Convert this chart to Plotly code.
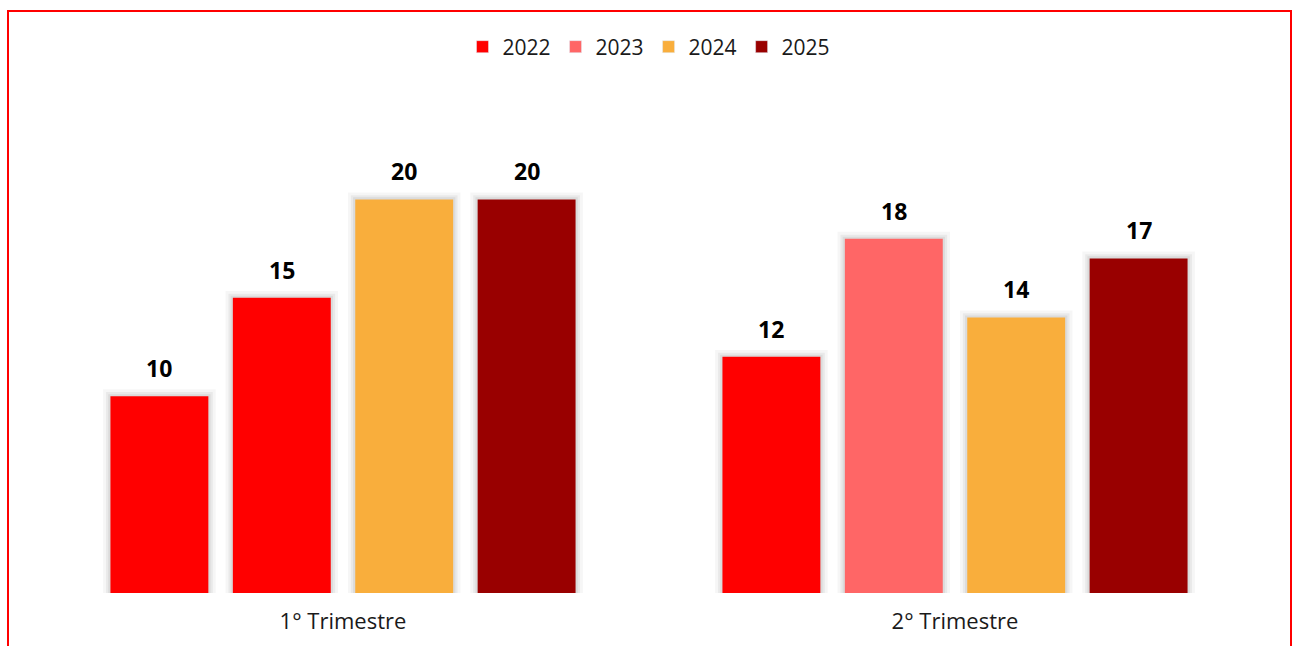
import plotly.graph_objects as go

categories = ["1° Trimestre", "2° Trimestre"]
years = ["2022", "2023", "2024", "2025"]
values = {
    "2022": [10, 12],
    "2023": [15, 18],
    "2024": [20, 14],
    "2025": [20, 17],
}
bar_colors = {
    "2022": ["#FF0000", "#FF0000"],
    "2023": ["#FF0000", "#FF6666"],
    "2024": ["#F9AE3C", "#F9AE3C"],
    "2025": ["#990000", "#990000"],
}
legend_colors = {"2022": "#FF0000", "2023": "#FF6666", "2024": "#F9AE3C", "2025": "#990000"}

FONT = "Open Sans"
x_idx = list(range(len(categories)))
slot = 0.2
bw = 0.16
pad_x = 0.012
pad_y = 0.35

fig = go.Figure()
# soft shadows
for i, yr in enumerate(years):
    off = -0.4 + i * slot + (slot - bw) / 2
    for px, op in [(pad_x, 0.035), (pad_x * 0.6, 0.05), (pad_x * 0.3, 0.06)]:
        fig.add_trace(go.Bar(
            x=x_idx, y=[v + pad_y * (px / pad_x) for v in values[yr]],
            width=bw + 2 * px, offset=off - px,
            marker=dict(color=f"rgba(0,0,0,{op})", line=dict(width=0)),
            showlegend=False, hoverinfo="skip",
        ))
for i, yr in enumerate(years):
    off = -0.4 + i * slot + (slot - bw) / 2
    fig.add_trace(go.Bar(
        x=x_idx, y=values[yr], name=yr, width=bw, offset=off,
        marker=dict(color=bar_colors[yr], line=dict(width=0)),
        showlegend=False,
    ))
    fig.add_trace(go.Bar(x=[None], y=[None], name=yr,
                         marker=dict(color=legend_colors[yr]), showlegend=True))
    for xi, v in zip(x_idx, values[yr]):
        fig.add_annotation(
            x=xi + off + bw / 2, y=v, xref="x", yref="y",
            text=f"<b>{v}</b>", showarrow=False, yanchor="bottom", yshift=10,
            font=dict(family=FONT, size=23, color="#000000"),
        )

fig.update_layout(
    width=1296, height=646,
    barmode="overlay",
    plot_bgcolor="white", paper_bgcolor="white",
    margin=dict(l=37, r=35, t=101, b=53),
    font=dict(family=FONT, size=16, color="#000000"),
    xaxis=dict(range=[-0.5, 1.5], tickvals=x_idx, ticktext=categories,
               showgrid=False, zeroline=False, showline=False, ticks="",
               ticklabelstandoff=13,
               tickfont=dict(size=22, color="#1a1a1a")),
    yaxis=dict(range=[0, 25], visible=False, showgrid=False, zeroline=False),
    legend=dict(orientation="h", x=0.5, xanchor="center", y=1 - 47 / 646,
                yref="container", yanchor="middle",
                font=dict(size=21, color="#1a1a1a"), itemwidth=30,
                traceorder="normal"),
    showlegend=True,
)
fig.add_shape(type="rect", xref="paper", yref="paper",
              x0=(8 - 37) / 1224, x1=(1291 - 37) / 1224,
              y0=-0.2, y1=(593 - 11) / 492,
              line=dict(color="#FF0000", width=2), fillcolor="rgba(0,0,0,0)",
              layer="above")

fig.write_html("out.html", config={"displayModeBar": False},
               post_script="document.body.style.margin='0';document.body.style.overflow='hidden';")
